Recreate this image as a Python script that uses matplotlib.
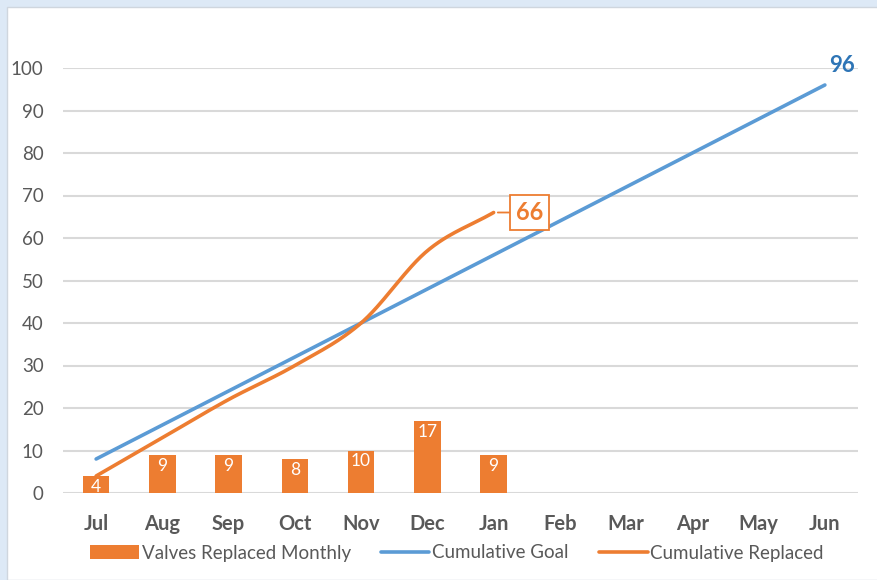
import numpy as np
import matplotlib
matplotlib.use("Agg")
import matplotlib.pyplot as plt
from matplotlib.patches import Rectangle

months = ["Jul", "Aug", "Sep", "Oct", "Nov", "Dec", "Jan", "Feb", "Mar", "Apr", "May", "Jun"]
monthly_replaced = [4, 9, 9, 8, 10, 17, 9]
cumulative_goal = [8, 16, 24, 32, 40, 48, 56, 64, 72, 80, 88, 96]
cumulative_replaced = [4, 13, 22, 30, 40, 57, 66]

ORANGE = "#ED7D31"
BLUE = "#5B9BD5"
GRAY = "#595959"

plt.rcParams["font.family"] = ["Lato", "DejaVu Sans"]


def smooth(xs, ys, n=30):
    """Catmull-Rom curve through the points (like Excel's smoothed line)"""
    xs = np.asarray(xs, float)
    ys = np.asarray(ys, float)
    px = np.concatenate([[2 * xs[0] - xs[1]], xs, [2 * xs[-1] - xs[-2]]])
    py = np.concatenate([[2 * ys[0] - ys[1]], ys, [2 * ys[-1] - ys[-2]]])
    out_x, out_y = [], []
    t = np.linspace(0, 1, n)
    for i in range(1, len(px) - 2):
        for arr, out in ((px, out_x), (py, out_y)):
            p0, p1, p2, p3 = arr[i - 1], arr[i], arr[i + 1], arr[i + 2]
            out.extend(0.5 * ((2 * p1) + (-p0 + p2) * t
                              + (2 * p0 - 5 * p1 + 4 * p2 - p3) * t ** 2
                              + (-p0 + 3 * p1 - 3 * p2 + p3) * t ** 3))
    return np.array(out_x), np.array(out_y)


fig = plt.figure(figsize=(8.77, 5.8), dpi=100)
fig.patch.set_facecolor("#dde9f6")
fig.patches.append(Rectangle((7 / 877, 0), 1, 1 - 7 / 580, transform=fig.transFigure,
                             facecolor="white", edgecolor="#cfd6de", lw=1, zorder=-5))

ax = fig.add_axes([63 / 877, 1 - 493 / 580, (858 - 63) / 877, (493 - 68) / 580])
ax.set_facecolor("none")

x = np.arange(len(months))
xb = np.arange(len(monthly_replaced))
bars = ax.bar(xb, monthly_replaced, width=0.4, color=ORANGE, zorder=2,
              label="Valves Replaced Monthly")
for b, v in zip(bars, monthly_replaced):
    ax.text(b.get_x() + b.get_width() / 2, v - 0.7, str(v), ha="center", va="top",
            color="white", fontsize=12.5, zorder=3)

goal_line, = ax.plot(x, cumulative_goal, color=BLUE, lw=2.6, solid_capstyle="round",
                     zorder=3, label="Cumulative Goal")
sx, sy = smooth(xb, cumulative_replaced)
repl_line, = ax.plot(sx, sy, color=ORANGE, lw=2.6, solid_capstyle="round", zorder=4,
                     label="Cumulative Replaced")

ax.annotate(str(cumulative_replaced[-1]), xy=(xb[-1], cumulative_replaced[-1]),
            xytext=(26, 0), textcoords="offset points", ha="center", va="center",
            color=ORANGE, fontsize=17, fontweight="bold", zorder=5,
            bbox=dict(boxstyle="square,pad=0.25", fc="white", ec=ORANGE, lw=1.3),
            arrowprops=dict(arrowstyle="-", color=ORANGE, lw=1.3, shrinkA=0, shrinkB=3))
ax.annotate(str(cumulative_goal[-1]), xy=(x[-1], cumulative_goal[-1]),
            xytext=(12, 14), textcoords="offset points", ha="center", va="center",
            color="#2E75B6", fontsize=16, fontweight="bold", annotation_clip=False)

ax.set_xlim(-0.5, 11.5)
ax.set_ylim(0, 100)
ax.set_yticks(range(0, 101, 10))
ax.set_xticks(x)
ax.set_xticklabels(months, fontweight="bold", fontsize=14.5, color=GRAY)
ax.tick_params(axis="y", labelsize=13.5, labelcolor=GRAY, length=0, pad=14)
ax.tick_params(axis="x", length=0, pad=15)
ax.grid(axis="y", color="#d9d9d9", lw=1.5, zorder=0)
ax.set_axisbelow(True)
for s in ax.spines.values():
    s.set_visible(False)

fig.legend(handles=[bars, goal_line, repl_line], loc="center",
           bbox_to_anchor=(0.521, 1 - 553 / 580), ncol=3, frameon=False,
           fontsize=13.5, labelcolor=GRAY, handlelength=2.6, handletextpad=0.15,
           columnspacing=1.6)

fig.savefig("out.png", dpi=100, facecolor=fig.get_facecolor())
